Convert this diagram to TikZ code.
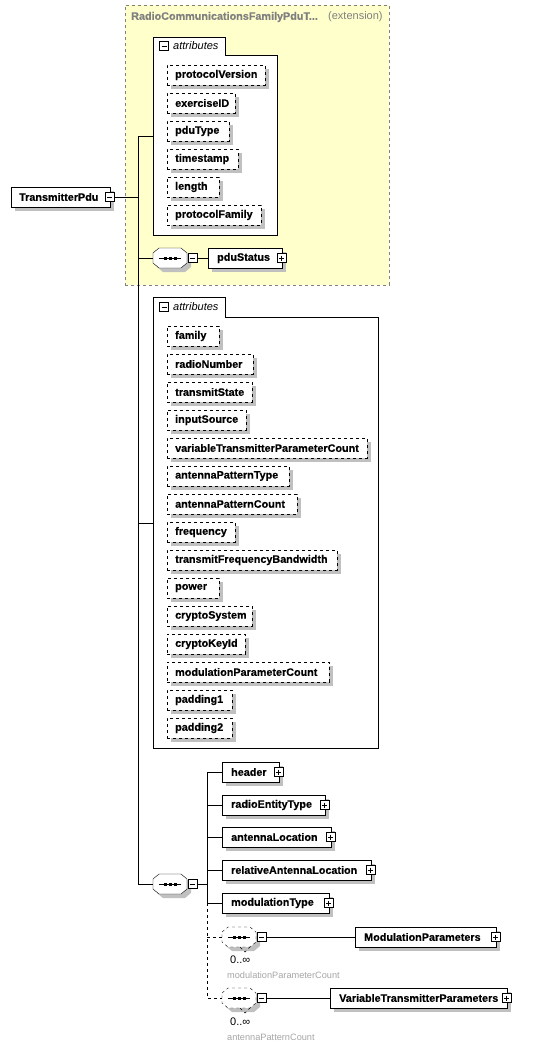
\documentclass[tikz,border=0pt]{standalone}
\usepackage{fontspec}
\setmainfont{Liberation Sans}
\newfontfamily\heavyfam{Liberation Sans}[FakeBold=0.4]
\usetikzlibrary{shadows,calc}
\definecolor{ylw}{RGB}{255,255,204}
\definecolor{shadowc}{RGB}{192,192,192}
\definecolor{extgray}{RGB}{128,128,128}
\definecolor{lgray}{RGB}{165,165,165}
\newcommand\efont{\heavyfam\fontsize{10.8}{13}\selectfont\bfseries}
\newcommand\rfont{\fontsize{11}{13}\selectfont}
\newcommand\sfontx{\fontsize{9.2}{11}\selectfont}
\tikzset{
  shd/.style={general shadow={fill=shadowc, shadow xshift=4pt, shadow yshift=-4pt}},
  elem/.style={shd, draw=black, fill=white, anchor=west, minimum height=20pt, inner ysep=0pt, inner xsep=9pt, align=left, font=\efont},
  attrnode/.style={elem, dashed, inner xsep=8pt},
  seqnode/.style={draw=none, minimum width=34pt, minimum height=20pt, inner sep=0pt},
  lbl/.style={anchor=west, inner sep=0pt},
  extbox/.style={draw=extgray, dashed, fill=ylw, anchor=north west, inner sep=0pt, minimum width=264pt, minimum height=280pt},
  attrcont/.style={draw=black, fill=white},
  conn/.style={draw=black},
  minusbox/.pic={\draw[fill=white, solid] (-4.5,-4.5) rectangle (4.5,4.5); \draw[solid] (-2.5,0) -- (2.5,0);},
  plusbox/.pic={\draw[fill=white, solid] (-4.5,-4.5) rectangle (4.5,4.5); \draw[solid] (-2.5,0) -- (2.5,0); \draw[solid] (0,-2.5) -- (0,2.5);}
}
\newcommand\seqsym[2][]{%
  \draw[shd, fill=white, #1] ($(#2)+(-17,-5)$) -- ($(#2)+(-11,-10)$) -- ($(#2)+(11,-10)$) -- ($(#2)+(17,-5)$) -- ($(#2)+(17,5)$) -- ($(#2)+(11,10)$) -- ($(#2)+(-11,10)$) -- ($(#2)+(-17,5)$) -- cycle;
  \draw ($(#2)+(-11,0)$) -- ($(#2)+(11,0)$);
  \foreach \dx in {-5,0,5} \fill ($(#2)+(\dx,0)+(-1.5,-1.5)$) rectangle ++(3,3);
}
\begin{document}
\begin{tikzpicture}[x=1pt,y=-1pt]
\useasboundingbox (0,0) rectangle (540,1051);
% extension container
\node[extbox] (ext) at (125,5) {};
\node[lbl, font=\efont, text=extgray] (exttitle) at (131,17) {RadioCommunicationsFamilyPduT...};
\node[lbl, font=\rfont, text=extgray] (extkind) at (328,17) {(extension)};

% attributes container 1
\draw[attrcont] (153,235) -- (153,37) -- (225,37) -- (225,55) -- (277,55) -- (277,235) -- cycle;
\coordinate (attA) at (153,136);
\pic at (164,46) {minusbox};
\node[lbl, font=\rfont\itshape] (attAlbl) at (173,46) {attributes};

\node[attrnode, text width=82pt] (pv) at (167,75) {protocolVersion};
\node[attrnode, text width=52pt] (eid) at (167,103) {exerciseID};
\node[attrnode, text width=46pt] (pt) at (167,131) {pduType};
\node[attrnode, text width=55pt] (ts) at (167,159) {timestamp};
\node[attrnode, text width=36pt] (len) at (167,187) {length};
\node[attrnode, text width=78pt] (pf) at (167,215) {protocolFamily};

% attributes container 2
\draw[attrcont] (153,748) -- (153,297) -- (225,297) -- (225,317) -- (378,317) -- (378,748) -- cycle;
\coordinate (attB) at (153,523);
\pic at (164,307) {minusbox};
\node[lbl, font=\rfont\itshape] (attBlbl) at (173,307) {attributes};

\node[attrnode, text width=36pt] (fam) at (167,336) {family};
\node[attrnode, text width=70pt] (rn) at (167,364) {radioNumber};
\node[attrnode, text width=69pt] (tst) at (167,392) {transmitState};
\node[attrnode, text width=63pt] (isrc) at (167,420) {inputSource};
\node[attrnode, text width=184pt] (vtpc) at (167,448) {variableTransmitterParameterCount};
\node[attrnode, text width=106pt] (apt) at (167,476) {antennaPatternType};
\node[attrnode, text width=114pt] (apc) at (167,504) {antennaPatternCount};
\node[attrnode, text width=52pt] (freq) at (167,532) {frequency};
\node[attrnode, text width=154pt] (tfb) at (167,560) {transmitFrequencyBandwidth};
\node[attrnode, text width=36pt] (pow) at (167,588) {power};
\node[attrnode, text width=69pt] (cs) at (167,616) {cryptoSystem};
\node[attrnode, text width=62pt] (cki) at (167,644) {cryptoKeyId};
\node[attrnode, text width=146pt] (mpc) at (167,672) {modulationParameterCount};
\node[attrnode, text width=49pt] (pad1) at (167,700) {padding1};
\node[attrnode, text width=49pt] (pad2) at (167,728) {padding2};

% sequence anchors
\node[seqnode] (seqA) at (170,258) {};
\node[seqnode] (seqC) at (170,884) {};
\node[seqnode] (seqD) at (239,937) {};
\node[seqnode] (seqE) at (239,998) {};

% root
\node[elem, inner xsep=8pt, text width=83pt] (root) at (11,197) {TransmitterPdu};
\coordinate (jn) at (138,197);

% elements
\node[elem, text width=56pt] (pdu) at (208,258) {pduStatus};
\node[elem, text width=39pt] (hdr) at (222,772) {header};
\node[elem, text width=85pt] (ret) at (222,805) {radioEntityType};
\node[elem, text width=91pt] (aloc) at (222,837) {antennaLocation};
\node[elem, text width=131pt] (rel) at (222,870) {relativeAntennaLocation};
\node[elem, text width=89pt] (modT) at (222,903) {modulationType};
\node[elem, text width=123pt] (modP) at (355,937) {ModulationParameters};
\node[elem, text width=159pt] (vtp) at (330,998) {VariableTransmitterParameters};
\coordinate (hub) at (207,884);

% connectors
\draw[conn] ([xshift=5pt]root.east) -- (jn);
\draw[conn] (attA) -| (jn |- seqC.west) -- (seqC.west);
\draw[conn] (jn |- seqA.west) -- (seqA.west);
\draw[conn] (jn |- attB) -- (attB);
\draw[conn] ([xshift=9.5pt]seqA.east) -- (pdu.west);
\draw[conn] ([xshift=9.5pt]seqC.east) -- (hub);
\draw[conn] (hdr.west) -| (hub |- modT.west) -- (modT.west);
\foreach \n in {ret,aloc,rel} \draw[conn] (hub |- \n.west) -- (\n.west);
\draw[conn, dashed] (hub |- modT.west) |- (seqE.west);
\draw[conn, dashed] (hub |- seqD.west) -- (seqD.west);
\draw[conn] ([xshift=10pt]seqD.east) -- (modP.west);
\draw[conn] ([xshift=10pt]seqE.east) -- (vtp.west);

% sequence symbols
\seqsym{seqA}
\seqsym{seqC}
\seqsym[dashed]{seqD}
\seqsym[dashed]{seqE}
\foreach \s in {seqD,seqE} \draw[dashed] ($(\s)+(1,10)$) -- ($(\s)+(6,15)$) -- ($(\s)+(11,10)$);

% expand/collapse boxes
\pic at ([xshift=-0.5pt]root.east) {minusbox};
\pic at ([xshift=5pt]seqA.east) {minusbox};
\pic at ([xshift=5pt]seqC.east) {minusbox};
\pic at ([xshift=5.5pt]seqD.east) {minusbox};
\pic at ([xshift=5.5pt]seqE.east) {minusbox};
\foreach \n in {pdu,hdr,ret,aloc,rel,modT,modP,vtp} \pic at ([xshift=-1pt]\n.east) {plusbox};

% occurrence labels
\node[lbl, font=\rfont] (occD) at (230,960) {0..∞};
\node[lbl, font=\sfontx, text=lgray] (occDn) at (227,975) {modulationParameterCount};
\node[lbl, font=\rfont] (occE) at (230,1022) {0..∞};
\node[lbl, font=\sfontx, text=lgray] (occEn) at (227,1037) {antennaPatternCount};
\end{tikzpicture}
\end{document}
